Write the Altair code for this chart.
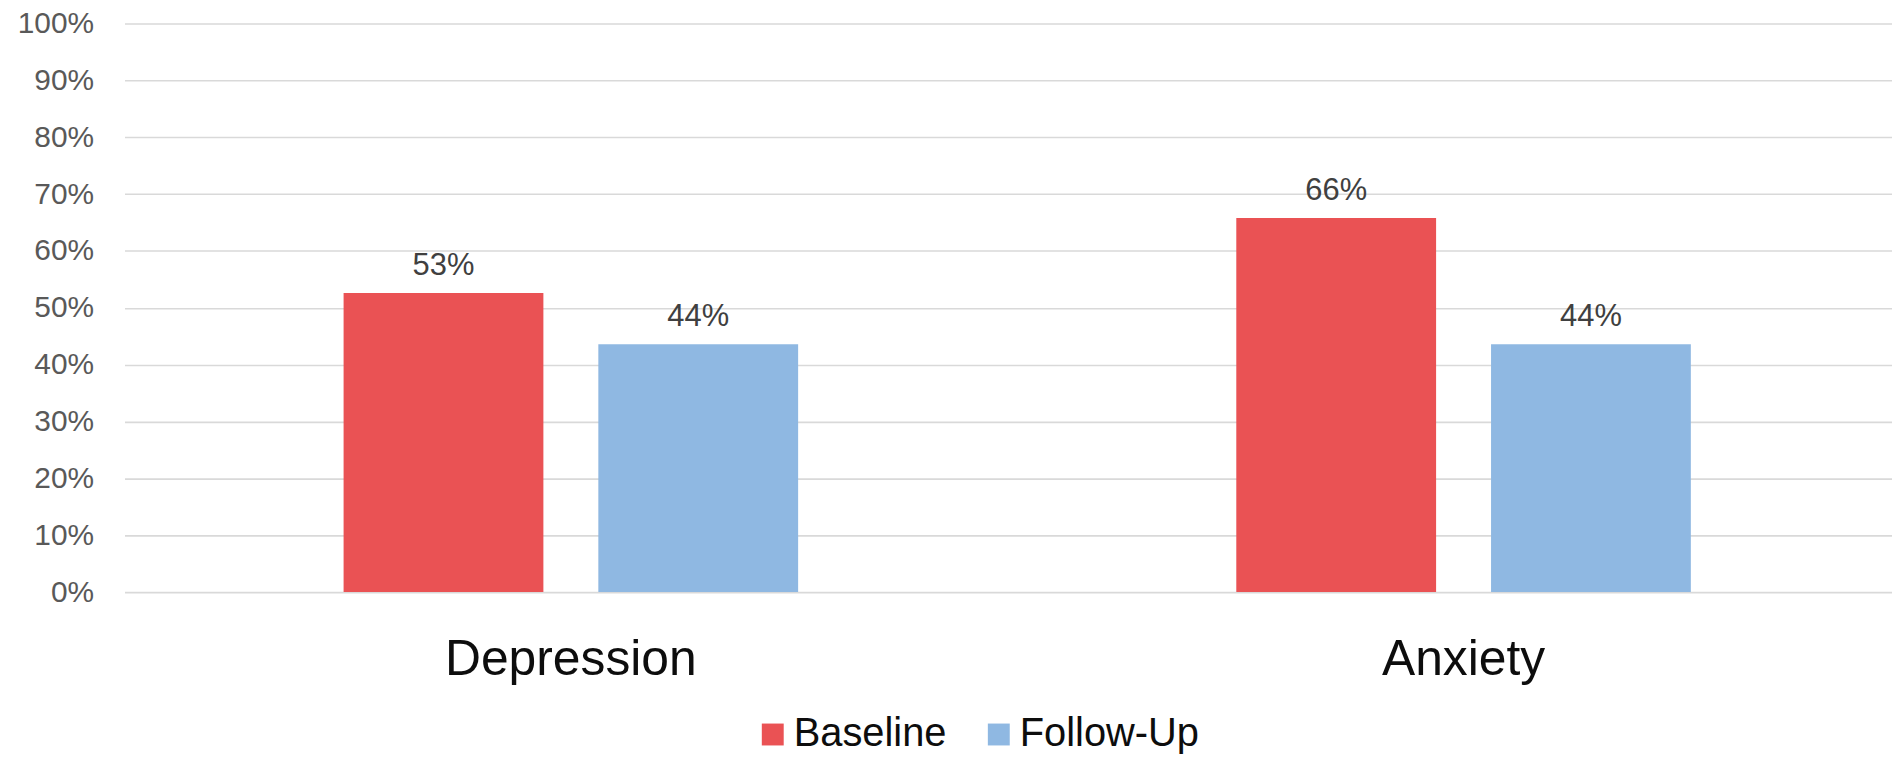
import altair as alt
import pandas as pd

categories = ["Depression", "Anxiety"]
series = ["Baseline", "Follow-Up"]
baseline_values = [0.526, 0.658]
followup_values = [0.436, 0.436]
colors = ["#EA5254", "#8FB8E2"]

rows = []
for i, c in enumerate(categories):
    rows.append({"category": c, "series": "Baseline", "value": baseline_values[i]})
    rows.append({"category": c, "series": "Follow-Up", "value": followup_values[i]})
df = pd.DataFrame(rows)

FONT = "Liberation Sans"

x = alt.X(
    "category:N",
    sort=categories,
    scale=alt.Scale(range=[2, 1795], paddingInner=0, paddingOuter=0),
    axis=alt.Axis(
        title=None, labelAngle=0, domain=False, ticks=False, tickSize=0,
        labelFontSize=50, labelFont=FONT, labelColor="#0d0d0d",
        labelPadding=83, labelBaseline="alphabetic", grid=False,
        labelLimit=600,
    ),
)
xoff = alt.XOffset(
    "series:N", sort=series,
    scale=alt.Scale(paddingInner=0.2157, paddingOuter=0.86),
)
y = alt.Y(
    "value:Q",
    scale=alt.Scale(domain=[0, 1], nice=False),
    axis=alt.Axis(
        title=None, format=".0%", values=[i / 10 for i in range(11)],
        domain=False, ticks=False, tickSize=0, labelPadding=29,
        labelFontSize=30, labelFont=FONT, labelColor="#595959",
        gridColor="#d9d9d9", gridWidth=1.6,
    ),
)

bars = alt.Chart(df).mark_bar().encode(
    x=x, xOffset=xoff, y=y,
    color=alt.Color(
        "series:N", sort=series,
        scale=alt.Scale(domain=series, range=colors),
        legend=alt.Legend(
            title=None, orient="none", direction="horizontal",
            legendX=633, legendY=694,
            symbolType="square", symbolSize=484, symbolStrokeWidth=0,
            symbolOpacity=1,
            labelFontSize=40, labelFont=FONT, labelColor="#0d0d0d",
            labelOffset=1, columnPadding=32, labelLimit=400,
        ),
    ),
)

labels = alt.Chart(df).mark_text(
    baseline="alphabetic", dy=-18, fontSize=31, font=FONT, color="#404040"
).encode(
    x=x, xOffset=xoff, y=y,
    text=alt.Text("value:Q", format=".0%"),
)

chart = alt.layer(bars, labels).properties(
    width=1777, height=571,
    autosize=alt.AutoSizeParams(type="none"),
    padding={"left": 115, "top": 14, "right": 0, "bottom": 164},
).configure_view(stroke=None)

chart.save("out.html", embed_options={"renderer": "svg", "actions": False})
